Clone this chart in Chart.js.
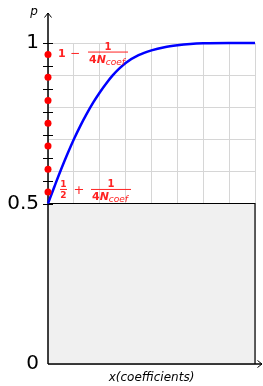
<!DOCTYPE html>
<html>
<head>
<meta charset="utf-8">
<script src="https://cdn.jsdelivr.net/npm/chart.js@4/dist/chart.umd.min.js"></script>
<style>
  html, body { margin: 0; padding: 0; background: #fff; }
</style>
</head>
<body>
<canvas id="probChart" width="263" height="386"></canvas>
<script>
// curve p(x)
var xCoef   = [0, 0.25, 0.5, 0.75, 1, 1.25, 1.5, 1.75, 2, 2.25, 2.5, 2.75, 3, 3.5, 4, 4.5, 5, 5.5, 6, 7, 8];
var pValues = [0.5, 0.553, 0.605, 0.654, 0.7, 0.742, 0.78, 0.815, 0.846, 0.874, 0.899, 0.92, 0.938, 0.962, 0.977, 0.987, 0.993, 0.997, 0.999, 1, 1];

// red dots on the p axis (N_coef = 7)
var dotValues = [0.536, 0.607, 0.679, 0.75, 0.821, 0.893, 0.964];
// small black marks across the p axis
var axisMarks = [0.5, 0.571, 0.643, 0.714, 0.786, 0.857, 0.929, 1];
// labelled p ticks
var labeledTicks = [0, 0.5, 1];

var xMax = 8;
var boxTop = 0.5;

var red = 'rgb(255,35,35)';

function drawFrac(ctx, x0, x1, ly) {
    ctx.fillRect(x0, ly - 0.5, x1 - x0, 1);
    ctx.textAlign = 'center';
    ctx.font = 'bold 10px "DejaVu Sans"';
    ctx.fillText('1', (x0 + x1) / 2, ly - 2);
    ctx.textAlign = 'left';
    ctx.font = 'bold 11px "DejaVu Sans"';
    ctx.fillText('4', x0 + 1, ly + 10.5);
    var w = ctx.measureText('4').width;
    ctx.font = 'italic bold 11px "DejaVu Sans"';
    ctx.fillText('N', x0 + 1 + w, ly + 10.5);
    w += ctx.measureText('N').width;
    ctx.font = 'italic 9px "DejaVu Sans"';
    ctx.fillText('coef', x0 + 1 + w, ly + 13);
}

function drawAxes(chart) {
    var ctx = chart.ctx,
        xs = chart.scales.x,
        ys = chart.scales.y;
    var ox = xs.getPixelForValue(0),
        oy = ys.getPixelForValue(0),
        ex = xs.getPixelForValue(xMax);

    ctx.save();
    ctx.strokeStyle = '#000';
    ctx.lineWidth = 1.5;

    // p axis with arrow
    var topY = ys.top - 30;
    ctx.beginPath();
    ctx.moveTo(ox, oy);
    ctx.lineTo(ox, topY);
    ctx.stroke();
    ctx.lineWidth = 1;
    ctx.beginPath();
    ctx.moveTo(ox - 3.5, topY + 4.5);
    ctx.lineTo(ox, topY);
    ctx.lineTo(ox + 3.5, topY + 4.5);
    ctx.stroke();

    // x axis with arrow
    ctx.lineWidth = 1.5;
    var endX = ex + 7;
    ctx.beginPath();
    ctx.moveTo(ox, oy);
    ctx.lineTo(endX, oy);
    ctx.stroke();
    ctx.lineWidth = 1;
    ctx.beginPath();
    ctx.moveTo(endX - 4.5, oy - 3.5);
    ctx.lineTo(endX, oy);
    ctx.lineTo(endX - 4.5, oy + 3.5);
    ctx.stroke();

    // marks across the p axis
    axisMarks.forEach(function (v) {
        var y = Math.round(ys.getPixelForValue(v)) + 0.5;
        ctx.beginPath();
        ctx.moveTo(ox - 5, y);
        ctx.lineTo(ox + 5, y);
        ctx.stroke();
    });

    // axis name p
    ctx.fillStyle = '#000';
    ctx.font = 'italic 12px "DejaVu Sans"';
    ctx.textAlign = 'center';
    ctx.fillText('p', ox - 14, topY + 2);
    ctx.restore();
}

function drawLabels(chart) {
    var ctx = chart.ctx,
        ox = chart.scales.x.getPixelForValue(0),
        ys = chart.scales.y;

    ctx.save();
    ctx.fillStyle = red;

    var ly1 = ys.getPixelForValue(dotValues[dotValues.length - 1]) - 2.5;
    ctx.textAlign = 'left';
    ctx.font = 'bold 11px "DejaVu Sans"';
    ctx.fillText('1', ox + 10, ly1 + 5);
    ctx.font = '12px "DejaVu Sans"';
    ctx.fillText('\u2212', ox + 22, ly1 + 5);
    drawFrac(ctx, ox + 40, ox + 80, ly1);

    var ly2 = ys.getPixelForValue(dotValues[0]) - 2.5;
    ctx.fillRect(ox + 12, ly2 - 0.5, 7, 1);
    ctx.textAlign = 'center';
    ctx.font = 'bold 9px "DejaVu Sans"';
    ctx.fillText('1', ox + 15.5, ly2 - 2);
    ctx.fillText('2', ox + 15.5, ly2 + 9);
    ctx.font = '13px "DejaVu Sans"';
    ctx.fillText('+', ox + 31, ly2 + 4.5);
    drawFrac(ctx, ox + 43, ox + 83, ly2);

    ctx.restore();
}

var axesPlugin = {
    id: 'axesPlugin',
    afterDatasetDraw: function (chart, args) {
        // axes go right over the grey box, under the curve and the dots
        if (args.index === 2) drawAxes(chart);
    },
    afterDatasetsDraw: function (chart) {
        drawLabels(chart);
    }
};

var chartEl = document.getElementById('probChart');

var probChart = new Chart(chartEl, {
    type: 'line',
    data: {
        datasets: [
            {
                label: 'dots',
                type: 'scatter',
                data: dotValues.map(function (v) { return { x: 0, y: v }; }),
                pointRadius: 3.5,
                pointBackgroundColor: '#ff0000',
                pointBorderColor: '#ff0000',
                pointBorderWidth: 0,
                showLine: false,
                clip: false,
                order: 1
            },
            {
                label: 'p',
                data: xCoef.map(function (x, i) { return { x: x, y: pValues[i] }; }),
                borderColor: '#0000ff',
                borderWidth: 2.5,
                pointRadius: 0,
                cubicInterpolationMode: 'monotone',
                fill: false,
                clip: false,
                order: 2
            },
            {
                label: 'box',
                data: [{ x: 0, y: boxTop }, { x: xMax, y: boxTop }, { x: xMax, y: 0 }],
                borderColor: '#000',
                borderWidth: 1.2,
                backgroundColor: '#f0f0f0',
                fill: 'origin',
                pointRadius: 0,
                tension: 0,
                clip: false,
                order: 3
            }
        ]
    },
    options: {
        responsive: false,
        animation: false,
        layout: { padding: { top: 43, right: 8, left: 0, bottom: 0 } },
        plugins: {
            legend: { display: false },
            tooltip: { enabled: false }
        },
        scales: {
            x: {
                type: 'linear',
                min: 0,
                max: xMax,
                ticks: { stepSize: 1, display: false },
                grid: { color: '#d6d6d6', lineWidth: 1, drawTicks: false },
                border: { display: false },
                title: {
                    display: true,
                    text: 'x(coefficients)',
                    color: '#000',
                    font: { family: 'DejaVu Sans', size: 12, style: 'italic' },
                    padding: { top: 0, bottom: 1 }
                },
                afterFit: function (s) { s.height = 22; }
            },
            y: {
                type: 'linear',
                min: 0,
                max: 1,
                ticks: {
                    stepSize: 0.1,
                    padding: 9,
                    color: '#000',
                    font: { family: 'DejaVu Sans', size: 20 },
                    callback: function (v) {
                        for (var i = 0; i < labeledTicks.length; i++) {
                            if (Math.abs(v - labeledTicks[i]) < 1e-6) return String(labeledTicks[i]);
                        }
                        return '';
                    }
                },
                grid: { color: '#d6d6d6', lineWidth: 1, drawTicks: false },
                border: { display: false },
                afterFit: function (s) { s.width = 48; }
            }
        }
    },
    plugins: [axesPlugin]
});
</script>
</body>
</html>
